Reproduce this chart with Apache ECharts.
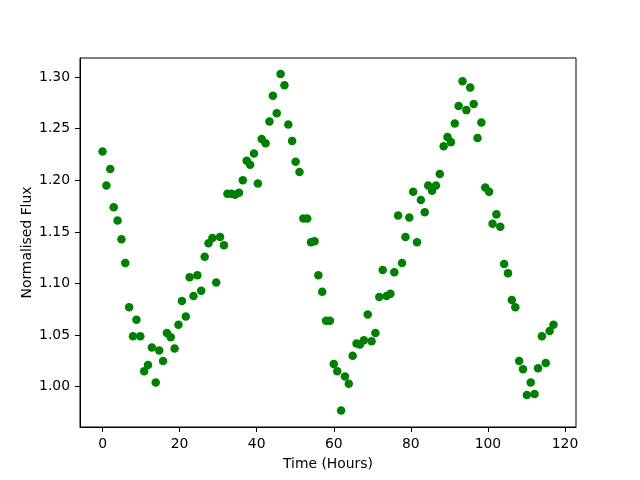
<!DOCTYPE html>
<html>
<head>
<meta charset="utf-8">
<script src="https://cdn.jsdelivr.net/npm/echarts@6/dist/echarts.min.js"></script>
<style>
  html, body { margin: 0; padding: 0; background: #fff; }
  #chart { width: 640px; height: 480px; }
</style>
</head>
<body>
<div id="chart"></div>
<script>
  // time of each observation (hours)
  var timeHours = [
    0.0, 1.0, 2.0, 2.9, 3.9, 4.9, 5.9, 6.9, 7.9, 8.8,
    9.8, 10.8, 11.8, 12.8, 13.8, 14.7, 15.7, 16.7, 17.7, 18.7,
    19.7, 20.6, 21.6, 22.6, 23.6, 24.6, 25.6, 26.5, 27.5, 28.5,
    29.5, 30.5, 31.5, 32.4, 33.4, 34.4, 35.4, 36.4, 37.4, 38.3,
    39.3, 40.3, 41.3, 42.3, 43.3, 44.2, 45.2, 46.2, 47.2, 48.2,
    49.2, 50.1, 51.1, 52.1, 53.1, 54.1, 55.0, 56.0, 57.0, 58.0,
    59.0, 60.0, 60.9, 61.9, 62.9, 63.9, 64.9, 65.9, 66.8, 67.8,
    68.8, 69.8, 70.8, 71.8, 72.7, 73.7, 74.7, 75.7, 76.7, 77.7,
    78.6, 79.6, 80.6, 81.6, 82.6, 83.6, 84.5, 85.5, 86.5, 87.5,
    88.5, 89.5, 90.4, 91.4, 92.4, 93.4, 94.4, 95.4, 96.3, 97.3,
    98.3, 99.3, 100.3, 101.2, 102.2, 103.2, 104.2, 105.2, 106.2, 107.1,
    108.1, 109.1, 110.1, 111.1, 112.1, 113.0, 114.0, 115.0, 116.0, 117.0
  ]
  // normalised flux
  var flux = [
    1.228, 1.195, 1.211, 1.174, 1.161, 1.143, 1.120, 1.077, 1.049, 1.065,
    1.049, 1.015, 1.021, 1.038, 1.004, 1.035, 1.025, 1.052, 1.048, 1.037,
    1.060, 1.083, 1.068, 1.106, 1.088, 1.108, 1.093, 1.126, 1.139, 1.144,
    1.101, 1.145, 1.137, 1.187, 1.187, 1.186, 1.188, 1.200, 1.219, 1.215,
    1.226, 1.197, 1.240, 1.236, 1.257, 1.282, 1.265, 1.303, 1.292, 1.254,
    1.238, 1.218, 1.208, 1.163, 1.163, 1.140, 1.141, 1.108, 1.092, 1.064,
    1.064, 1.022, 1.015, 0.977, 1.010, 1.003, 1.030, 1.042, 1.041, 1.045,
    1.070, 1.044, 1.052, 1.087, 1.113, 1.088, 1.090, 1.111, 1.166, 1.120,
    1.145, 1.164, 1.189, 1.140, 1.181, 1.169, 1.195, 1.190, 1.195, 1.206,
    1.233, 1.242, 1.237, 1.255, 1.272, 1.296, 1.268, 1.290, 1.274, 1.241,
    1.256, 1.193, 1.189, 1.158, 1.167, 1.155, 1.119, 1.110, 1.084, 1.077,
    1.025, 1.017, 0.992, 1.004, 0.993, 1.018, 1.049, 1.023, 1.054, 1.060
  ]
  var xTicks = [0, 20, 40, 60, 80, 100, 120]
  var yTicks = [1.00, 1.05, 1.10, 1.15, 1.20, 1.25, 1.30]

  var points = []
  for (var i = 0; i < timeHours.length; i++) {
    points.push([timeHours[i], flux[i]])
  }

  var font = 'DejaVu Sans'
  var myChart = echarts.init(document.getElementById('chart'), null, { renderer: 'canvas' })
  var option = {
    animation: false,
    backgroundColor: '#fff',
    textStyle: { fontFamily: font },
    grid: {
      left: 80, right: 64, top: 58, bottom: 53,
      show: true, borderColor: '#000', borderWidth: 1
    },
    xAxis: {
      type: 'value',
      min: -5.85,
      max: 122.85,
      name: 'Time (Hours)',
      nameLocation: 'middle',
      nameGap: 30,
      nameMoveOverlap: false,
      nameTextStyle: { color: '#000', fontSize: 13.9, fontFamily: font },
      axisLine: { show: true, onZero: false, lineStyle: { color: '#000', width: 1 } },
      axisTick: { show: true, length: 5, lineStyle: { color: '#000' }, customValues: xTicks },
      axisLabel: { color: '#000', fontSize: 13.9, margin: 10, fontFamily: font, customValues: xTicks },
      splitLine: { show: false }
    },
    yAxis: {
      type: 'value',
      min: 0.961,
      max: 1.3185,
      name: 'Normalised Flux',
      nameLocation: 'middle',
      nameGap: 46,
      nameMoveOverlap: false,
      nameTextStyle: { color: '#000', fontSize: 13.9, fontFamily: font },
      axisLine: { show: true, onZero: false, lineStyle: { color: '#000', width: 1 } },
      axisTick: { show: true, length: 5, lineStyle: { color: '#000' }, customValues: yTicks },
      axisLabel: {
        color: '#000', fontSize: 13.9, margin: 10, fontFamily: font, customValues: yTicks,
        formatter: function (v) { return v.toFixed(2) }
      },
      splitLine: { show: false }
    },
    series: [{
      type: 'scatter',
      data: points,
      symbol: 'circle',
      symbolSize: 8.5,
      itemStyle: { color: '#008000', opacity: 1 }
    }]
  }
  myChart.setOption(option)
</script>
</body>
</html>
